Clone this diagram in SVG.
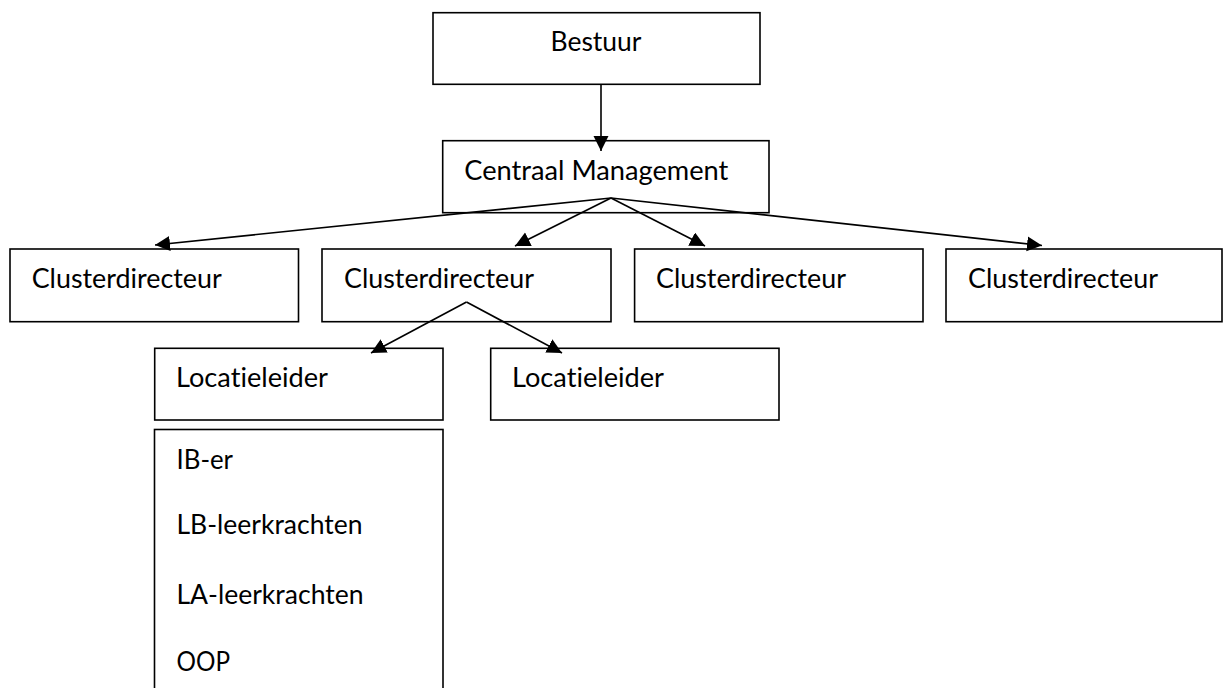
<svg xmlns="http://www.w3.org/2000/svg" width="1224" height="688" viewBox="0 0 1224 688">
  <style>
    .box { fill: #ffffff; stroke: #000000; stroke-width: 1.6; }
    .lbl { font-family: Lato, "Open Sans", "Liberation Sans", sans-serif; font-size: 26px; fill: #000000; font-variant-ligatures: none; font-feature-settings: "liga" 0, "clig" 0; }
    .con { stroke: #000000; stroke-width: 1.6; fill: none; marker-end: url(#arrow); }
  </style>
  <defs>
    <marker id="arrow" markerUnits="userSpaceOnUse" markerWidth="16" markerHeight="16" refX="15" refY="7.5" orient="auto">
      <path d="M0,0 L15,7.5 L0,15 Z" fill="#000000"/>
    </marker>
  </defs>
  <rect width="1224" height="688" fill="#ffffff"/>

  <g id="node-bestuur">
    <rect class="box" x="433" y="12.7" width="327" height="71.6"/>
    <text class="lbl" x="596" y="51" text-anchor="middle" textLength="91" lengthAdjust="spacingAndGlyphs">Bestuur</text>
  </g>
  <g id="node-centraal">
    <rect class="box" x="442.7" y="140.7" width="326.3" height="72"/>
    <text class="lbl" x="464.3" y="180" textLength="264" lengthAdjust="spacingAndGlyphs">Centraal Management</text>
  </g>
  <g id="node-cluster1">
    <rect class="box" x="10" y="249" width="288.5" height="72.7"/>
    <text class="lbl" x="31.7" y="288" textLength="190" lengthAdjust="spacingAndGlyphs">Clusterdirecteur</text>
  </g>
  <g id="node-cluster2">
    <rect class="box" x="322" y="249" width="289" height="72.7"/>
    <text class="lbl" x="344" y="288" textLength="190" lengthAdjust="spacingAndGlyphs">Clusterdirecteur</text>
  </g>
  <g id="node-cluster3">
    <rect class="box" x="634.6" y="249" width="288.4" height="72.7"/>
    <text class="lbl" x="656" y="288" textLength="190" lengthAdjust="spacingAndGlyphs">Clusterdirecteur</text>
  </g>
  <g id="node-cluster4">
    <rect class="box" x="946" y="249" width="276" height="72.7"/>
    <text class="lbl" x="968" y="288" textLength="190" lengthAdjust="spacingAndGlyphs">Clusterdirecteur</text>
  </g>
  <g id="node-locatie1">
    <rect class="box" x="154.7" y="348.3" width="288.3" height="71.7"/>
    <text class="lbl" x="176" y="387" textLength="152" lengthAdjust="spacingAndGlyphs">Locatieleider</text>
  </g>
  <g id="node-locatie2">
    <rect class="box" x="490.7" y="348.3" width="288.3" height="71.7"/>
    <text class="lbl" x="512" y="387" textLength="152" lengthAdjust="spacingAndGlyphs">Locatieleider</text>
  </g>
  <g id="node-staff">
    <rect class="box" x="154.5" y="429.5" width="288.5" height="280"/>
    <text class="lbl" x="176.5" y="469" textLength="56.5" lengthAdjust="spacingAndGlyphs">IB-er</text>
    <text class="lbl" x="176.5" y="534" textLength="186" lengthAdjust="spacingAndGlyphs">LB-leerkrachten</text>
    <text class="lbl" x="176.5" y="604" textLength="187" lengthAdjust="spacingAndGlyphs">LA-leerkrachten</text>
    <text class="lbl" x="176.5" y="671" textLength="53.5" lengthAdjust="spacingAndGlyphs">OOP</text>
  </g>

  <g id="connectors">
    <line class="con" x1="601" y1="84.3" x2="601" y2="151"/>
    <line class="con" x1="611" y1="198" x2="155" y2="245"/>
    <line class="con" x1="611" y1="198" x2="515" y2="246"/>
    <line class="con" x1="611" y1="198" x2="705" y2="246"/>
    <line class="con" x1="611" y1="198" x2="1042" y2="245.5"/>
    <line class="con" x1="466.5" y1="302" x2="371" y2="353"/>
    <line class="con" x1="466.5" y1="302" x2="562" y2="353"/>
  </g>
</svg>
